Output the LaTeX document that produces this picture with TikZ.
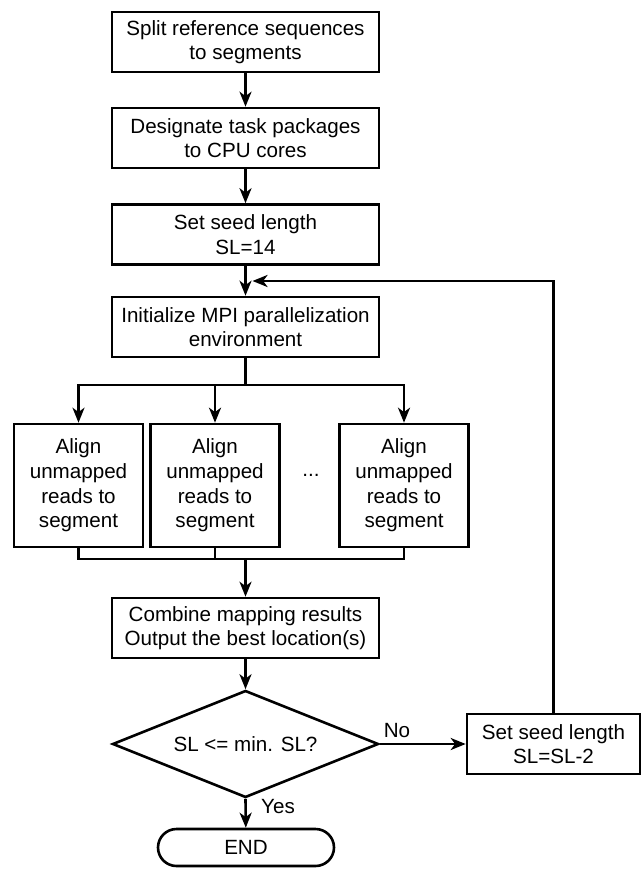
\documentclass[tikz,border=0pt]{standalone}
\usepackage{fontspec}
\setmainfont{Liberation Sans}
\usetikzlibrary{positioning, arrows.meta, calc, shapes.geometric, shapes.misc}

\begin{document}
\begin{tikzpicture}[
  x=0.5pt, y=-0.5pt,
  every node/.style={font=\fontsize{10.3}{12.3}\selectfont},
  stepbox/.style={draw, line width=1.3pt, align=center, minimum width=133.5pt, minimum height=30pt, inner sep=0},
  alignbox/.style={draw, line width=1.3pt, align=center, minimum width=64.5pt, minimum height=61.5pt, inner sep=0},
  seedbox/.style={draw, line width=1.3pt, align=center, minimum width=86.5pt, minimum height=30pt, inner sep=0},
  decide/.style={diamond, aspect=2.4, draw, line width=1.3pt, minimum width=133pt, minimum height=53.5pt, inner sep=0},
  term/.style={rounded rectangle, draw, line width=1.3pt, minimum width=88pt, minimum height=18.5pt, inner sep=0},
  line/.style={line width=1.3pt},
  flow/.style={line width=1.3pt, -{Stealth[length=7.5pt, width=6pt, inset=2.2pt]}},
]
  \useasboundingbox (0,0) rectangle (641,870);

  % --- main column ---
  \node[stepbox] (split)     at (245.5,42)    {Split reference sequences\\to segments};
  \node[stepbox] (designate) at (245.5,138)   {Designate task packages\\to CPU cores};
  \node[stepbox] (seed)      at (245.5,234.5) {Set seed length\\SL=14};
  \node[stepbox] (mpi)       at (245.5,327)   {Initialize MPI parallelization\\environment};

  % --- parallel workers ---
  \node[alignbox] (alignA) at (78.5,485.5) {Align\\unmapped\\reads to\\segment};
  \node[alignbox] (alignB) at (215,485.5)  {Align\\unmapped\\reads to\\segment};
  \node[alignbox] (alignC) at (404,485.5)  {Align\\unmapped\\reads to\\segment};
  \node (dots) at (311,475) {...};

  % --- combine, decision, loop, end ---
  \node[stepbox] (combine) at (245.5,628) {Combine mapping results\\Output the best location(s)};
  \node[decide]  (check)   at (245.5,744) {SL <= min. SL?};
  \node[seedbox] (reduce)  at (553.5,744) {Set seed length\\SL=SL-2};
  \node[term]    (stop)    at (246,847.5) {END};
  \node (no)  at (397,731) {No};
  \node (yes) at (278,807) {Yes};

  \coordinate (loop) at (245.5,281);
  \coordinate (fork) at (245.5,385);
  \coordinate (join) at (245.5,559);

  % --- connectors ---
  \draw[flow] (split) -- (designate);
  \draw[flow] (designate) -- (seed);
  \draw[flow] (seed) -- (mpi);
  \draw[line] (mpi) -- (fork);
  \draw[flow] (fork) -| (alignA);
  \draw[flow] (fork) -| (alignB);
  \draw[flow] (fork) -| (alignC);
  \draw[line] (alignA.south) |- (join);
  \draw[line] (alignC.south) |- (join);
  \draw[line] (alignB.south) -- (alignB.south |- join);
  \draw[flow] (join) -- (combine);
  \draw[flow] (combine) -- (check);
  \draw[flow] (check.east) -- (reduce.west);
  \draw[flow] (check.south) -- (stop);
  \draw[flow, shorten >=3.5pt] (reduce.north) |- (loop);
\end{tikzpicture}
\end{document}
